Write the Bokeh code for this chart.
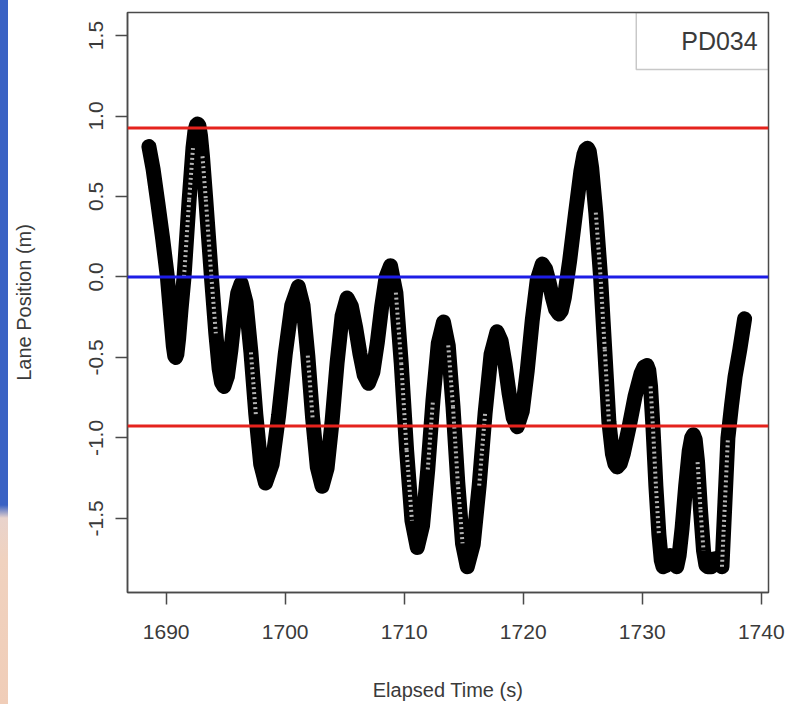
from bokeh.plotting import figure
from bokeh.layouts import row
from bokeh.models import Span, BoxAnnotation, Label, Range1d, FixedTicker, Div
from bokeh.embed import file_html
from bokeh.resources import INLINE

# ---- data ----
elapsed_time = [
    1688.55, 1688.9, 1689.3, 1689.7, 1690.1, 1690.4, 1690.6, 1690.72, 1690.8,
    1690.9, 1691.05, 1691.25, 1691.5, 1691.93, 1692.25, 1692.42, 1692.55, 1692.65,
    1692.75, 1692.88, 1693.05, 1693.33, 1693.8, 1694.17, 1694.45, 1694.65, 1694.85,
    1695.14, 1695.43, 1695.72, 1696.01, 1696.3,
    1696.71, 1697.12, 1697.53, 1697.94, 1698.35,
    1698.9, 1699.45, 1700.0, 1700.55, 1701.1,
    1701.5, 1701.9, 1702.3, 1702.7, 1703.1,
    1703.52, 1703.94, 1704.36, 1704.78, 1705.2,
    1705.56, 1705.92, 1706.28, 1706.64, 1707.0,
    1707.37, 1707.74, 1708.11, 1708.48, 1708.85,
    1709.3, 1709.75, 1710.2, 1710.65, 1711.1,
    1711.54, 1711.98, 1712.42, 1712.86, 1713.3,
    1713.7, 1714.1, 1714.5, 1714.9, 1715.3,
    1715.8, 1716.3, 1716.8, 1717.3, 1717.8,
    1718.14, 1718.48, 1718.82, 1719.16, 1719.5,
    1719.92, 1720.34, 1720.76, 1721.18, 1721.6,
    1721.88, 1722.16, 1722.44, 1722.72, 1723.0,
    1723.2, 1723.45, 1723.9, 1724.4, 1724.85, 1725.1, 1725.25, 1725.4,
    1725.55, 1725.75, 1726.1, 1726.5, 1726.85, 1727.2, 1727.5, 1727.7, 1727.9,
    1728.15, 1728.4, 1728.9, 1729.4, 1729.9, 1730.15, 1730.4,
    1730.55, 1730.7, 1730.9, 1731.15, 1731.4, 1731.6, 1731.75,
    1732.05, 1732.35, 1732.65, 1732.9,
    1733.1, 1733.35, 1733.65, 1733.95, 1734.15, 1734.3,
    1734.45, 1734.65, 1734.9, 1735.15, 1735.35, 1735.5, 1735.8, 1736.1, 1736.4, 1736.7,
    1736.95, 1737.2, 1737.5, 1737.8, 1738.2, 1738.6,
]
lane_position = [
    0.81, 0.67, 0.46, 0.24, 0.00, -0.26, -0.43, -0.49, -0.50,
    -0.48, -0.38, -0.20, 0.00, 0.48, 0.80, 0.91, 0.945, 0.95,
    0.94, 0.88, 0.75, 0.48, 0.00, -0.35, -0.57, -0.655, -0.68,
    -0.619, -0.459, -0.261, -0.101, -0.04,
    -0.158, -0.468, -0.852, -1.162, -1.28,
    -1.164, -0.859, -0.482, -0.177, -0.06,
    -0.178, -0.488, -0.872, -1.182, -1.30,
    -1.188, -0.896, -0.534, -0.242, -0.13,
    -0.181, -0.313, -0.477, -0.609, -0.66,
    -0.590, -0.408, -0.182, 0.000, 0.07,
    -0.097, -0.535, -1.075, -1.513, -1.68,
    -1.546, -1.196, -0.764, -0.414, -0.28,
    -0.425, -0.805, -1.275, -1.655, -1.80,
    -1.661, -1.296, -0.844, -0.479, -0.34,
    -0.396, -0.544, -0.726, -0.874, -0.93,
    -0.834, -0.581, -0.269, -0.017, 0.08,
    0.050, -0.027, -0.123, -0.200, -0.23,
    -0.21, -0.13, 0.10, 0.40, 0.66, 0.76, 0.79, 0.80,
    0.78, 0.68, 0.40, 0.00, -0.45, -0.90, -1.10, -1.16, -1.18,
    -1.16, -1.10, -0.93, -0.74, -0.60, -0.56, -0.55,
    -0.58, -0.68, -0.93, -1.30, -1.60, -1.76, -1.80,
    -1.79, -1.73, -1.78, -1.80,
    -1.73, -1.56, -1.30, -1.08, -1.00, -0.98,
    -1.01, -1.15, -1.45, -1.70, -1.79, -1.80, -1.80, -1.75, -1.78, -1.80,
    -1.40, -1.00, -0.80, -0.62, -0.45, -0.26,
]
threshold_lines = [0.925, -0.925]
center_line = [0.0]
x_ticks = [1690, 1700, 1710, 1720, 1730, 1740]
y_ticks = [-1.5, -1.0, -0.5, 0.0, 0.5, 1.0, 1.5]
y_tick_labels = ["-1.5", "-1.0", "-0.5", "0.0", "0.5", "1.0", "1.5"]
x_title = "Elapsed Time (s)"
y_title = "Lane Position (m)"
legend_text = "PD034"

FONT = "Liberation Sans"
TXT = "#3a3a3a"
X0, X1 = 1686.75, 1740.61
Y0, Y1 = -1.96, 1.643
STRIP = 8
STEEP = 0.9  # m/s: where the sampled open squares separate into a "ladder"

# narrow strip of the slide background at the far left
strip = Div(text="", width=STRIP, height=704, margin=0,
            styles={"background": "linear-gradient(to bottom, #3a62c4 0px, #3a62c4 505px, "
                                   "#e9d3cc 518px, #f0d2bf 560px, #f0cdb8 704px)"})

p = figure(width=792 - STRIP, height=704, output_backend="svg", toolbar_location=None,
           x_range=Range1d(X0, X1), y_range=Range1d(Y0, Y1),
           min_border_left=127 - STRIP, min_border_right=24, min_border_top=12,
           min_border_bottom=112)
p.grid.visible = False
p.outline_line_color = "#4a4a4a"
p.outline_line_width = 1.5
p.background_fill_color = "white"
p.border_fill_color = "white"

# data curve (dense open squares in the original -> thick black trace)
p.line(elapsed_time, lane_position, line_color="black", line_width=15,
       line_join="round", line_cap="round")

# hollow "ladder" look of the squares on the steep stretches
sx0, sy0, sx1, sy1 = [], [], [], []
for i in range(len(elapsed_time) - 1):
    dt = elapsed_time[i + 1] - elapsed_time[i]
    dy = lane_position[i + 1] - lane_position[i]
    if abs(dy / dt) > STEEP:
        sx0.append(elapsed_time[i]); sy0.append(lane_position[i])
        sx1.append(elapsed_time[i + 1]); sy1.append(lane_position[i + 1])
p.segment(sx0, sy0, sx1, sy1, line_color="white", line_width=4,
          line_dash="2 3", line_alpha=0.7)

# reference lines
for v in threshold_lines:
    p.add_layout(Span(location=v, dimension="width", line_color="#e5231d", line_width=3))
for v in center_line:
    p.add_layout(Span(location=v, dimension="width", line_color="#1d1de6", line_width=3))

# axes
for ax in (p.xaxis[0], p.yaxis[0]):
    ax.axis_line_color = "#4a4a4a"
    ax.axis_line_width = 1.5
    ax.major_tick_line_color = "#4a4a4a"
    ax.major_tick_line_width = 1.5
    ax.major_tick_out = 12
    ax.major_tick_in = 0
    ax.minor_tick_line_color = None
    ax.major_label_text_font = FONT
    ax.major_label_text_font_size = "21px"
    ax.major_label_text_color = TXT
    ax.axis_label_text_font = FONT
    ax.axis_label_text_font_size = "20px"
    ax.axis_label_text_font_style = "normal"
    ax.axis_label_text_color = TXT

p.xaxis.ticker = FixedTicker(ticks=x_ticks)
p.xaxis.axis_label = x_title
p.xaxis.major_label_standoff = 20
p.xaxis.axis_label_standoff = 37

p.yaxis.ticker = FixedTicker(ticks=y_ticks)
p.yaxis.major_label_overrides = {t: s_ for t, s_ in zip(y_ticks, y_tick_labels)}
p.yaxis.major_label_orientation = "vertical"
p.yaxis.axis_label = y_title
p.yaxis.major_label_standoff = 12
p.yaxis.axis_label_standoff = 52

# legend box
p.add_layout(BoxAnnotation(left=1729.5, right=X1, bottom=1.289, top=Y1,
                           fill_color=None, line_color="#4a4a4a", line_width=1.5))
p.add_layout(Label(x=1739.7, y=1.465, text=legend_text, text_align="right",
                   text_baseline="middle", text_font=FONT, text_font_size="25px",
                   text_color=TXT))

layout = row(strip, p, spacing=0)
open("out.html", "w").write(file_html(layout, INLINE))
